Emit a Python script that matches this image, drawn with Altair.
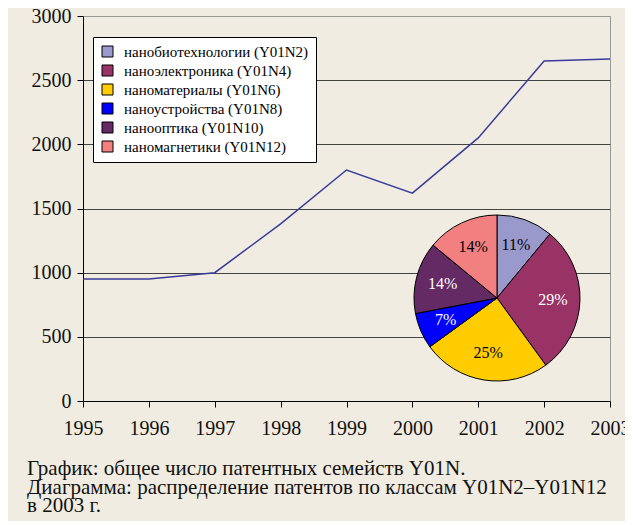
import altair as alt
import pandas as pd

years = [1995, 1996, 1997, 1998, 1999, 2000, 2001, 2002, 2003]
totals = [950, 950, 1000, 1380, 1800, 1620, 2050, 2650, 2665]

classes = ["нанобиотехнологии (Y01N2)", "наноэлектроника (Y01N4)", "наноматериалы (Y01N6)",
           "наноустройства (Y01N8)", "нанооптика (Y01N10)", "наномагнетики (Y01N12)"]
shares = [11, 29, 25, 7, 14, 14]
pie_colors = ["#9999cc", "#993366", "#ffcc00", "#0000ff", "#632a63", "#f28080"]
white_label = ["наноэлектроника (Y01N4)", "наноустройства (Y01N8)", "нанооптика (Y01N10)"]

line_df = pd.DataFrame({"year": years, "total": totals})
pie_df = pd.DataFrame({"cls": classes, "share": shares, "idx": list(range(len(classes)))})
pie_df["label"] = pie_df["share"].astype(str) + "%"

FONT = "'Liberation Serif', serif"

line = alt.Chart(line_df).mark_line(color="#3a3a99", strokeWidth=1.5).encode(
    x=alt.X("year:Q", scale=alt.Scale(domain=[1995, 2003], nice=False),
            axis=alt.Axis(values=years, format="d", title=None, grid=False,
                          tickSize=6, labelPadding=11, domainColor="#000", tickColor="#000",
                          labelFlush=False, labelOverlap=False,
                          labelFontSize=20, labelColor="#111", labelFont=FONT)),
    y=alt.Y("total:Q", scale=alt.Scale(domain=[0, 3000], nice=False),
            axis=alt.Axis(values=[0, 500, 1000, 1500, 2000, 2500, 3000], title=None, format="d",
                          grid=True, gridColor=alt.condition("datum.value == 3000", alt.value("#999999"), alt.value("#444444")),
                          gridWidth=1, tickSize=6, labelPadding=6,
                          labelFlush=False, labelOverlap=False,
                          domainColor="#000", tickColor="#000",
                          labelFontSize=20, labelColor="#111", labelFont=FONT)),
)

base_pie = alt.Chart(pie_df).encode(
    theta=alt.Theta("share:Q", stack=True),
    order=alt.Order("idx:Q"),
)

arcs = base_pie.mark_arc(outerRadius=83, stroke="#000", strokeWidth=1).encode(
    x=alt.value(414), y=alt.value(282),
    color=alt.Color("cls:N", sort=classes,
                    scale=alt.Scale(domain=classes, range=pie_colors),
                    legend=alt.Legend(title=None, orient="none", legendX=10, legendY=21,
                                      symbolType="square", symbolSize=121,
                                      symbolStrokeColor="#000", symbolStrokeWidth=1,
                                      labelFont=FONT, labelFontSize=15, labelColor="#000",
                                      labelOffset=9, rowPadding=3, padding=7,
                                      fillColor="#ffffff", strokeColor="#000",
                                      labelLimit=400)),
)

labels = base_pie.mark_text(radius=56, font=FONT, fontSize=16).encode(
    x=alt.value(414), y=alt.value(282),
    text="label:N",
    color=alt.condition(alt.FieldOneOfPredicate(field="cls", oneOf=white_label),
                        alt.value("#ffffff"), alt.value("#000000")),
)

chart = alt.layer(line, arcs, labels).resolve_scale(color="independent").properties(
    width=527, height=385,
    autosize=alt.AutoSizeParams(type="none"),
    padding={"left": 75, "top": 8, "right": 15, "bottom": 120},
    background="#f0ece2",
    title=alt.TitleParams(
        text=["График: общее число патентных семейств Y01N.",
              "Диаграмма: распределение патентов по классам Y01N2–Y01N12",
              "в 2003 г."],
        orient="bottom", anchor="start", dx=-4, offset=20,
        font=FONT, fontSize=21, fontWeight="normal", color="#111", lineHeight=18.5),
).configure_view(stroke="#999999", strokeWidth=1)

chart.save("out.html", embed_options={"renderer": "svg", "actions": False})
